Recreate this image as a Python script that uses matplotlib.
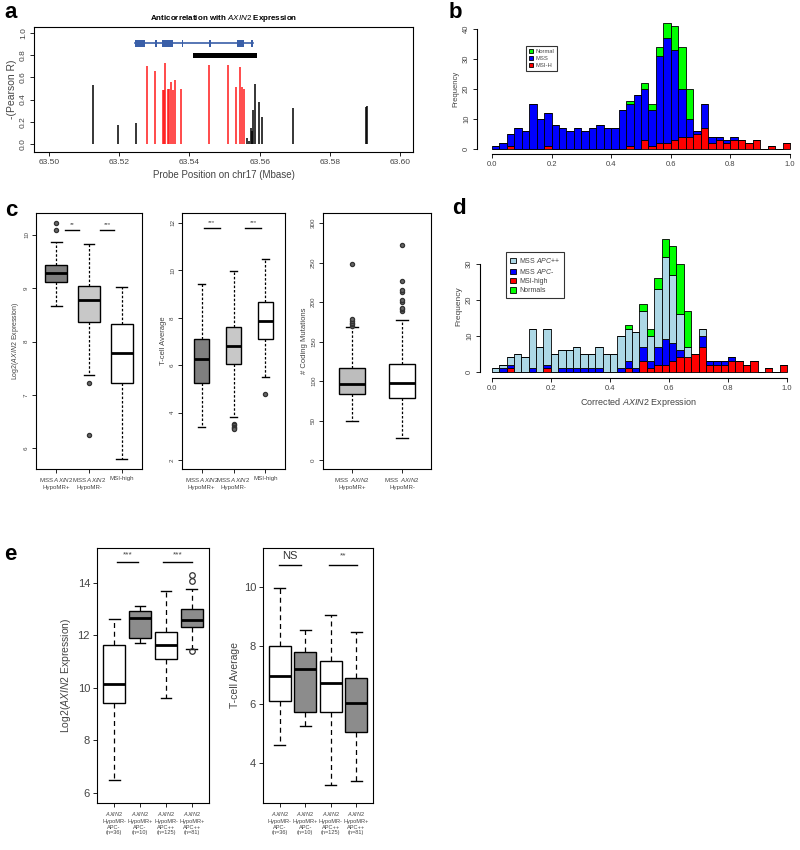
import numpy as np
import matplotlib.pyplot as plt
from matplotlib.patches import Rectangle, Patch

plt.rcParams['font.family'] = ['Liberation Sans', 'DejaVu Sans']
plt.rcParams['mathtext.fontset'] = 'custom'
plt.rcParams['mathtext.rm'] = 'Liberation Sans'
plt.rcParams['mathtext.it'] = 'Liberation Sans:italic'
plt.rcParams['mathtext.bf'] = 'Liberation Sans:bold'

W, H = 800, 850
GREY = '#444444'

# ---- panel a: probe correlations along chr17 ----
red_pos = [63.5278, 63.5301, 63.5325, 63.5328, 63.5331, 63.5338, 63.5343, 63.5348, 63.5352,
           63.5358, 63.5375, 63.5455, 63.5509, 63.5534, 63.5544, 63.5551, 63.5555]
red_r = [0.70, 0.66, 0.49, 0.49, 0.73, 0.50, 0.50, 0.56, 0.49, 0.58, 0.50, 0.71, 0.71, 0.51,
         0.69, 0.51, 0.50]
black_pos = [63.5124, 63.5197, 63.5247, 63.5565, 63.5571, 63.5575, 63.5578, 63.5582, 63.5586,
             63.5599, 63.5606, 63.5696, 63.5903, 63.5906]
black_r = [0.53, 0.17, 0.19, 0.05, 0.03, 0.14, 0.12, 0.31, 0.54, 0.38, 0.24, 0.32, 0.33, 0.34]
gene_span = (63.5245, 63.5581)
exon_start = [63.5245, 63.5302, 63.5322, 63.5379, 63.5456, 63.5536, 63.5575]
exon_end = [63.5274, 63.5308, 63.5353, 63.5383, 63.5462, 63.5556, 63.5581]
block_span = (63.5409, 63.5593)

# ---- panel b: histogram (bins of 0.025) ----
b_msi = [0, 0, 1, 0, 0, 0, 0, 1, 0, 0, 0, 0, 0, 0, 0, 0, 0, 0, 1, 0,
         3, 1, 2, 2, 3, 4, 4, 5, 7, 2, 3, 2, 3, 3, 2, 3, 0, 1, 0, 2]
b_mss = [1, 2, 4, 7, 6, 15, 10, 11, 8, 7, 6, 7, 6, 7, 8, 7, 7, 13, 14, 18,
         17, 12, 29, 35, 30, 16, 6, 1, 8, 2, 1, 1, 1, 0, 0, 0, 0, 0, 0, 0]
b_normal = [0, 0, 0, 0, 0, 0, 0, 0, 0, 0, 0, 0, 0, 0, 0, 0, 0, 0, 1, 0,
            2, 2, 3, 5, 8, 14, 10, 0, 0, 0, 0, 0, 0, 0, 0, 0, 0, 0, 0, 0]

# ---- panel d: histogram by APC status ----
d_msi = [0, 0, 1, 0, 0, 0, 0, 1, 0, 0, 0, 0, 0, 0, 0, 0, 0, 0, 1, 0,
         3, 1, 2, 2, 3, 4, 4, 5, 7, 2, 2, 2, 3, 3, 2, 3, 0, 1, 0, 2]
d_apc_minus = [0, 1, 1, 0, 0, 1, 0, 1, 0, 1, 1, 1, 1, 1, 1, 0, 0, 1, 2, 1,
               4, 2, 5, 7, 5, 2, 0, 0, 3, 1, 1, 1, 1, 0, 0, 0, 0, 0, 0, 0]
d_apc_pp = [1, 1, 2, 5, 4, 11, 7, 10, 5, 5, 5, 6, 4, 4, 6, 5, 5, 9, 9, 10,
            10, 7, 16, 23, 19, 10, 3, 0, 2, 0, 0, 0, 0, 0, 0, 0, 0, 0, 0, 0]
d_normal = [0, 0, 0, 0, 0, 0, 0, 0, 0, 0, 0, 0, 0, 0, 0, 0, 0, 0, 1, 0,
            2, 2, 3, 5, 8, 14, 10, 0, 0, 0, 0, 0, 0, 0, 0, 0, 0, 0, 0, 0]
bin_w = 0.025

# ---- panel c: box plot summaries ----
c_groups3 = ['MSS $\\mathit{AXIN2}$\nHypoMR+', 'MSS $\\mathit{AXIN2}$\nHypoMR-', 'MSI-high']
c_groups2 = ['MSS  $\\mathit{AXIN2}$\nHypoMR+', 'MSS  $\\mathit{AXIN2}$\nHypoMR-']
c1_q1 = [9.11, 8.36, 7.23]
c1_med = [9.28, 8.78, 7.79]
c1_q3 = [9.44, 9.05, 8.33]
c1_lo = [8.67, 7.38, 5.79]
c1_hi = [9.87, 9.83, 9.03]
c1_out = [[10.09, 10.22], [7.23, 6.25], []]
c2_q1 = [5.24, 6.03, 7.11]
c2_med = [6.25, 6.83, 7.87]
c2_q3 = [7.10, 7.59, 8.65]
c2_lo = [3.41, 3.83, 5.52]
c2_hi = [9.44, 9.99, 10.48]
c2_out = [[], [3.52, 3.46, 3.40, 3.35, 3.30], [4.77]]
c3_q1 = [83, 79]
c3_med = [96, 97]
c3_q3 = [116, 122]
c3_lo = [49, 28]
c3_hi = [168, 177]
c3_out = [[170, 172, 174, 176, 178, 248], [189, 191, 193, 200, 203, 213, 215, 227, 272]]

# ---- panel e: box plot summaries ----
e_groups = ['$\\mathit{AXIN2}$\nHypoMR-\nAPC-\n(n=36)', '$\\mathit{AXIN2}$\nHypoMR+\nAPC-\n(n=10)',
            '$\\mathit{AXIN2}$\nHypoMR-\nAPC++\n(n=125)', '$\\mathit{AXIN2}$\nHypoMR+\nAPC++\n(n=81)']
e1_q1 = [9.44, 11.90, 11.10, 12.34]
e1_med = [10.14, 12.66, 11.62, 12.60]
e1_q3 = [11.62, 12.92, 12.15, 13.00]
e1_lo = [6.48, 11.71, 9.60, 11.48]
e1_hi = [12.62, 13.13, 13.68, 13.77]
e1_out = [[], [], [], [14.32, 14.06, 11.40]]
e2_q1 = [6.10, 5.74, 5.74, 5.05]
e2_med = [6.97, 7.19, 6.74, 6.06]
e2_q3 = [8.00, 7.77, 7.49, 6.89]
e2_lo = [4.62, 5.27, 3.24, 3.38]
e2_hi = [9.95, 8.53, 9.04, 8.47]


def place(l, t, r, b):
    return [l / W, 1 - b / H, (r - l) / W, (b - t) / H]


def ftext(x, y, s, **kw):
    fig.text(x / W, 1 - y / H, s, **kw)


def r_axes(ax, size, color=GREY):
    for sp in ax.spines.values():
        sp.set_linewidth(0.8)
        sp.set_color('black')
    ax.tick_params(direction='out', length=3, width=0.6, labelsize=size, labelcolor=color,
                   pad=2)


def rot_yticks(ax):
    plt.setp(ax.get_yticklabels(), rotation=90, va='center')


def boxes(ax, q1, med, q3, lo, hi, out, colors, width, flier_ms=3, flier_fill='none',
          dash=(0, (3, 2))):
    stats = []
    for i in range(len(med)):
        stats.append(dict(q1=q1[i], med=med[i], q3=q3[i], whislo=lo[i], whishi=hi[i],
                          fliers=out[i]))
    bp = ax.bxp(stats, positions=range(1, len(med) + 1), widths=width,
                capwidths=width * 0.5, patch_artist=True, showfliers=True,
                boxprops=dict(edgecolor='black', linewidth=1.0),
                medianprops=dict(color='black', linewidth=2.0),
                whiskerprops=dict(color='black', linewidth=0.9, linestyle=dash),
                capprops=dict(color='black', linewidth=1.0),
                flierprops=dict(marker='o', markerfacecolor=flier_fill, markeredgecolor='#333333',
                                markersize=flier_ms, markeredgewidth=0.9))
    for patch, c in zip(bp['boxes'], colors):
        patch.set_facecolor(c)
    return bp


def sig(ax, x0, x1, y, label, ty, size=5, color=GREY):
    ax.plot([x0, x1], [y, y], color='black', lw=1.0, clip_on=False)
    ax.text((x0 + x1) / 2, ty, label, ha='center', va='center', fontsize=size, color=color)


fig = plt.figure(figsize=(8, 8.5), dpi=100)

# ================= a =================
ax = fig.add_axes(place(34, 27, 413, 152))
ax.vlines(black_pos, 0, black_r, color='black', lw=1.1)
ax.vlines(red_pos, 0, red_r, color='#ff1a1a', lw=1.1)
ax.plot(gene_span, [0.907, 0.907], color='#3a5fa8', lw=1.2)
for s, e in zip(exon_start, exon_end):
    ax.add_patch(Rectangle((s, 0.878), e - s, 0.06, color='#3a5fa8', lw=0))
ax.add_patch(Rectangle((block_span[0], 0.772), block_span[1] - block_span[0], 0.05,
                       color='black', lw=0))
ax.set_xlim(63.4957, 63.6037)
ax.set_ylim(-0.072, 1.054)
ax.set_xticks([63.50, 63.52, 63.54, 63.56, 63.58, 63.60])
ax.set_xticklabels(['63.50', '63.52', '63.54', '63.56', '63.58', '63.60'])
ax.set_yticks([0, 0.2, 0.4, 0.6, 0.8, 1.0])
ax.set_yticklabels(['0.0', '0.2', '0.4', '0.6', '0.8', '1.0'])
r_axes(ax, 6)
rot_yticks(ax)
ax.set_xlabel('Probe Position on chr17 (Mbase)', fontsize=7, color=GREY, labelpad=3)
ax.set_ylabel('-(Pearson R)', fontsize=7.5, color=GREY, labelpad=2)
ax.set_title('Anticorrelation with $\\mathit{AXIN2}$ Expression', fontsize=5.8,
             fontweight='bold', pad=5)

# ================= b =================
ax = fig.add_axes(place(477, 23, 796, 154))
left = np.arange(len(b_mss)) * bin_w
b_msi = np.array(b_msi)
b_mss = np.array(b_mss)
ax.bar(left, b_msi, width=bin_w, align='edge', color='#ff0000', edgecolor='black', lw=0.6)
ax.bar(left, b_mss, bottom=b_msi, width=bin_w, align='edge', color='#0000ff',
       edgecolor='black', lw=0.6)
ax.bar(left, b_normal, bottom=b_msi + b_mss, width=bin_w, align='edge', color='#00ff00',
       edgecolor='black', lw=0.6)
ax.set_xlim(-0.05, 1.02)
ax.set_ylim(-1.67, 42)
ax.spines['top'].set_visible(False)
ax.spines['right'].set_visible(False)
r_axes(ax, 5.5)
ax.spines['left'].set_bounds(0, 40)
ax.spines['bottom'].set_bounds(0, 1)
ax.set_xticks([0, 0.2, 0.4, 0.6, 0.8, 1.0])
ax.set_xticklabels(['0.0', '0.2', '0.4', '0.6', '0.8', '1.0'])
ax.set_yticks([0, 10, 20, 30, 40])
rot_yticks(ax)
ax.set_ylabel('Frequency', fontsize=5.5, color=GREY, labelpad=3)
handles = [Patch(facecolor=c, edgecolor='black', lw=0.6) for c in ['#00ff00', '#0000ff', '#ff0000']]
leg = ax.legend(handles, ['Normal', 'MSS', 'MSI-H'], loc='upper left',
                bbox_to_anchor=(523 / W, 1 - 43 / H), bbox_transform=fig.transFigure,
                fontsize=4.2, frameon=True, fancybox=False, edgecolor='black',
                handlelength=0.7, handleheight=0.7, handletextpad=0.4, labelspacing=0.35,
                borderpad=0.5, labelcolor=GREY)
leg.get_frame().set_linewidth(0.8)

# ================= d =================
ax = fig.add_axes(place(480, 233.5, 796, 378))
left = np.arange(len(d_msi)) * bin_w
d_msi = np.array(d_msi)
d_apc_minus = np.array(d_apc_minus)
d_apc_pp = np.array(d_apc_pp)
ax.bar(left, d_msi, width=bin_w, align='edge', color='#ff0000', edgecolor='black', lw=0.6)
ax.bar(left, d_apc_minus, bottom=d_msi, width=bin_w, align='edge', color='#0000ff',
       edgecolor='black', lw=0.6)
ax.bar(left, d_apc_pp, bottom=d_msi + d_apc_minus, width=bin_w, align='edge',
       color='#add8e6', edgecolor='black', lw=0.6)
ax.bar(left, d_normal, bottom=d_msi + d_apc_minus + d_apc_pp, width=bin_w, align='edge',
       color='#00ff00', edgecolor='black', lw=0.6)
ax.set_xlim(-0.04, 1.03)
ax.set_ylim(-1.75, 38.5)
ax.spines['top'].set_visible(False)
ax.spines['right'].set_visible(False)
r_axes(ax, 5.5)
ax.spines['left'].set_bounds(0, 30)
ax.spines['bottom'].set_bounds(0, 1)
ax.set_xticks([0, 0.2, 0.4, 0.6, 0.8, 1.0])
ax.set_xticklabels(['0.0', '0.2', '0.4', '0.6', '0.8', '1.0'])
ax.set_yticks([0, 10, 20, 30])
rot_yticks(ax)
ax.set_ylabel('Frequency', fontsize=6, color=GREY, labelpad=3)
ax.set_xlabel('Corrected $\\mathit{AXIN2}$ Expression', fontsize=6.5, color=GREY, labelpad=3)
handles = [Patch(facecolor=c, edgecolor='black', lw=0.6)
           for c in ['#add8e6', '#0000ff', '#ff0000', '#00ff00']]
leg = ax.legend(handles, ['MSS $\\mathit{APC}$++', 'MSS $\\mathit{APC}$-', 'MSI-high', 'Normals'],
                loc='upper left', bbox_to_anchor=(503 / W, 1 - 249 / H),
                bbox_transform=fig.transFigure, fontsize=5, frameon=True, fancybox=False,
                edgecolor='black', handlelength=0.8, handleheight=0.8, handletextpad=0.5,
                labelspacing=0.3, borderpad=0.5, labelcolor=GREY)
leg.get_frame().set_linewidth(0.8)

# ================= c =================
c_dash = (0, (2, 1.5))
ax = fig.add_axes(place(36, 213, 142, 469))
boxes(ax, c1_q1, c1_med, c1_q3, c1_lo, c1_hi, c1_out, ['#7f7f7f', '#c8c8c8', 'white'], 0.67,
      flier_fill='#666666', dash=c_dash)
ax.set_xlim(0.38, 3.62)
ax.set_ylim(5.61, 10.41)
ax.set_yticks([6, 7, 8, 9, 10])
r_axes(ax, 4.5)
rot_yticks(ax)
ax.set_xticks([1, 2, 3])
ax.set_xticklabels(c_groups3, fontsize=4.4, color=GREY)
ax.set_ylabel('Log2($\\mathit{AXIN2}$ Expression)', fontsize=5, color=GREY, labelpad=2)
sig(ax, 1.28, 1.68, 10.09, '**', 10.2, size=4.5)
sig(ax, 2.35, 2.75, 10.09, '***', 10.2, size=4.5)

ax = fig.add_axes(place(182, 213, 285, 469))
boxes(ax, c2_q1, c2_med, c2_q3, c2_lo, c2_hi, c2_out, ['#7f7f7f', '#c8c8c8', 'white'], 0.46,
      flier_fill='#666666', dash=c_dash)
ax.set_xlim(0.38, 3.62)
ax.set_ylim(1.62, 12.42)
ax.set_yticks([2, 4, 6, 8, 10, 12])
r_axes(ax, 4.5)
rot_yticks(ax)
ax.set_xticks([1, 2, 3])
ax.set_xticklabels(c_groups3, fontsize=4.4, color=GREY)
ax.set_ylabel('T-cell Average', fontsize=5.5, color=GREY, labelpad=2)
sig(ax, 1.06, 1.57, 11.8, '***', 12.0, size=4.5)
sig(ax, 2.37, 2.88, 11.8, '***', 12.0, size=4.5)

ax = fig.add_axes(place(323, 213, 431, 469))
boxes(ax, c3_q1, c3_med, c3_q3, c3_lo, c3_hi, c3_out, ['#bdbdbd', 'white'], 0.51,
      flier_fill='#666666', dash=c_dash)
ax.set_xlim(0.42, 2.58)
ax.set_ylim(-11.4, 312.8)
ax.set_yticks([0, 50, 100, 150, 200, 250, 300])
r_axes(ax, 4.5)
rot_yticks(ax)
ax.set_xticks([1, 2])
ax.set_xticklabels(c_groups2, fontsize=4.4, color=GREY)
ax.set_ylabel('# Coding Mutations', fontsize=5.5, color=GREY, labelpad=2)

# ================= e =================
e_dash = (0, (4, 3))
ax = fig.add_axes(place(97, 548, 209, 803))
boxes(ax, e1_q1, e1_med, e1_q3, e1_lo, e1_hi, e1_out, ['white', '#8c8c8c', 'white', '#8c8c8c'],
      0.84, flier_ms=4, dash=e_dash)
ax.set_xlim(0.34, 4.66)
ax.set_ylim(5.62, 15.33)
ax.set_yticks([6, 8, 10, 12, 14])
r_axes(ax, 8)
ax.set_xticks([1, 2, 3, 4])
ax.set_xticklabels(e_groups, fontsize=4.1, color=GREY, linespacing=1.2)
ax.set_ylabel('Log2($\\mathit{AXIN2}$ Expression)', fontsize=7.5, color=GREY, labelpad=3)
sig(ax, 1.13, 1.94, 14.79, '***', 15.08, size=6)
sig(ax, 2.9, 4.0, 14.79, '***', 15.08, size=6)

ax = fig.add_axes(place(263, 548, 373, 803))
boxes(ax, e2_q1, e2_med, e2_q3, e2_lo, e2_hi, [[], [], [], []],
      ['white', '#8c8c8c', 'white', '#8c8c8c'], 0.85, dash=e_dash)
ax.set_xlim(0.34, 4.66)
ax.set_ylim(2.64, 11.33)
ax.set_yticks([4, 6, 8, 10])
r_axes(ax, 8)
ax.set_xticks([1, 2, 3, 4])
ax.set_xticklabels(e_groups, fontsize=4.1, color=GREY, linespacing=1.2)
ax.set_ylabel('T-cell Average', fontsize=7.5, color=GREY, labelpad=3)
sig(ax, 0.96, 1.85, 10.76, 'NS', 11.06, size=8, color='#333333')
sig(ax, 2.95, 4.05, 10.76, '**', 11.06, size=6)

# panel letters
for letter, x, y in [('a', 4, 13), ('b', 449, 12), ('c', 5, 210), ('d', 452, 208), ('e', 4, 555)]:
    ftext(x, y, letter, fontsize=16, fontweight='bold', va='center', ha='left')

fig.savefig('out.png', dpi=100)
